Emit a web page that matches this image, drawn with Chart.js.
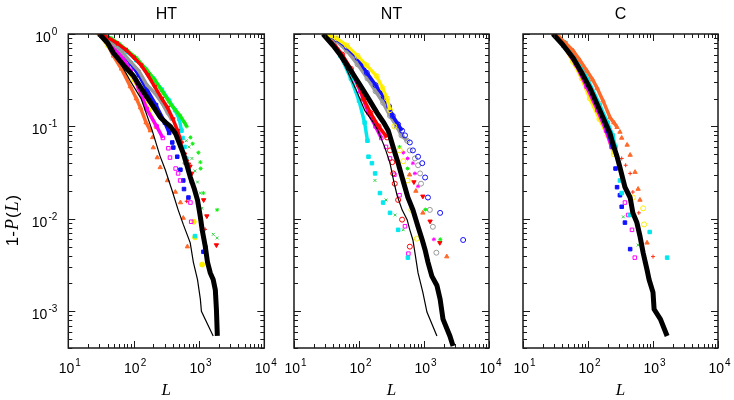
<!DOCTYPE html>
<html>
<head>
<meta charset="utf-8">
<script src="https://cdn.jsdelivr.net/npm/chart.js@4.4.0/dist/chart.umd.min.js"></script>
<style>
    body { margin: 0; background: #ffffff; }
    #wrap { position: relative; width: 734px; height: 400px; }
    #wrap canvas { position: absolute; left: 0; top: 0; }
</style>
</head>
<body>
<div id="wrap">
    <canvas id="c1" width="734" height="400"></canvas>
    <canvas id="c2" width="734" height="400"></canvas>
    <canvas id="c3" width="734" height="400"></canvas>
</div>
<script>
// Подписи делений (основание 10, показатели степени)
const xTickValues = [10, 100, 1000, 10000];
const xTickExp = ['1', '2', '3', '4'];
const yTickValues = [1, 0.1, 0.01, 0.001];
const yTickExp = ['0', '-1', '-2', '-3'];

// ---- HT ----
const htThickX = [30, 40, 49, 70, 99, 130, 162, 205, 257, 310, 365, 437, 500, 576, 660, 740, 850, 950, 1050, 1120, 1250, 1350, 1490, 1650, 1780, 1850, 1910];
const htThickY = [1, 0.8, 0.625, 0.46, 0.354, 0.26, 0.205, 0.16, 0.125, 0.11, 0.1, 0.084, 0.066, 0.051, 0.037, 0.028, 0.021, 0.016, 0.0105, 0.0076, 0.005, 0.0034, 0.0026, 0.0022, 0.0017, 0.00105, 0.00054];
const htThinX = [30, 49, 89, 130, 190, 253, 305, 390, 480, 575, 735, 820, 950, 1050, 1090, 1650];
const htThinY = [1, 0.66, 0.31, 0.2, 0.093, 0.048, 0.034, 0.02, 0.0125, 0.0087, 0.0055, 0.0034, 0.0022, 0.00135, 0.001, 0.00054];
const htRedX = [30, 40, 55, 75, 100, 130, 165, 210, 270, 330, 400, 470, 540, 600, 650, 690, 730, 775, 1180, 1320, 1850];
const htRedY = [1, 0.92, 0.8, 0.68, 0.56, 0.46, 0.36, 0.27, 0.2, 0.16, 0.12, 0.09, 0.066, 0.05, 0.042, 0.039, 0.037, 0.031, 0.016, 0.0107, 0.0052];
const htGreenX = [30, 45, 60, 80, 110, 158, 210, 285, 380, 515, 600, 650, 740, 800, 980, 1050, 1060, 1170, 1900];
const htGreenY = [1, 0.9, 0.78, 0.66, 0.55, 0.41, 0.32, 0.23, 0.17, 0.13, 0.11, 0.1, 0.076, 0.065, 0.052, 0.041, 0.035, 0.019, 0.0125];
const htGreenCrossX = [640, 700, 780, 870, 950, 1050, 1110, 1660, 1900];
const htGreenCrossY = [0.07, 0.06, 0.045, 0.033, 0.025, 0.019, 0.013, 0.0068, 0.0062];
const htCyanX = [30, 45, 60, 80, 110, 150, 200, 270, 350, 430, 500, 540, 560, 600, 640, 700, 870];
const htCyanY = [1, 0.88, 0.76, 0.64, 0.52, 0.42, 0.33, 0.25, 0.19, 0.15, 0.12, 0.09, 0.075, 0.06, 0.045, 0.033, 0.0065];
const htGrayX = [30, 45, 65, 90, 120, 160, 210, 270, 330, 380, 450, 520, 600, 750, 1100];
const htGrayY = [1, 0.82, 0.65, 0.5, 0.4, 0.28, 0.23, 0.18, 0.14, 0.12, 0.09, 0.06, 0.04, 0.025, 0.0075];
const htMagX = [30, 45, 65, 90, 120, 158, 225, 280, 340, 360, 440, 480, 515, 740, 760, 1260];
const htMagY = [1, 0.78, 0.58, 0.4, 0.26, 0.155, 0.1, 0.075, 0.058, 0.046, 0.035, 0.031, 0.026, 0.015, 0.0093, 0.0049];
const htBlueX = [30, 45, 65, 90, 120, 160, 220, 300, 350, 390, 405, 465, 520, 575, 590, 690, 1170];
const htBlueY = [1, 0.82, 0.64, 0.48, 0.36, 0.25, 0.17, 0.11, 0.085, 0.067, 0.059, 0.047, 0.034, 0.026, 0.021, 0.017, 0.0044];
const htYellowX = [30, 40, 55, 75, 100, 130, 170, 220, 830, 870, 1120];
const htYellowY = [1, 0.76, 0.58, 0.44, 0.32, 0.23, 0.15, 0.1, 0.0093, 0.0063, 0.0032];
const htOrangeX = [30, 38, 49, 65, 89, 110, 127, 155, 180, 195, 200, 230, 255, 330, 435, 520, 575, 665];
const htOrangeY = [1, 0.82, 0.58, 0.42, 0.27, 0.2, 0.16, 0.11, 0.09, 0.076, 0.059, 0.046, 0.036, 0.026, 0.0195, 0.015, 0.0102, 0.005];
const htRedPlusX = [650, 1240];
const htRedPlusY = [0.0155, 0.0077];

// ---- NT ----
const ntThickX = [28, 40, 51, 72, 104, 140, 190, 240, 282, 335, 400, 475, 565, 675, 810, 940, 1040, 1150, 1320, 1580, 1770, 1960, 2500, 2800];
const ntThickY = [1, 0.75, 0.6, 0.42, 0.28, 0.2, 0.14, 0.11, 0.09, 0.06, 0.04, 0.026, 0.017, 0.0125, 0.0082, 0.0059, 0.0046, 0.0034, 0.0024, 0.0019, 0.00135, 0.00082, 0.00054, 0.00042];
const ntThinX = [30, 45, 61, 90, 123, 160, 195, 250, 300, 340, 385, 460, 550, 605, 675, 725, 810, 960, 1110, 1580];
const ntThinY = [1, 0.66, 0.45, 0.25, 0.148, 0.115, 0.091, 0.059, 0.04, 0.026, 0.018, 0.0125, 0.0098, 0.0076, 0.0059, 0.0043, 0.0026, 0.0016, 0.00098, 0.00054];
const ntYellowX = [30, 45, 65, 95, 130, 187, 230, 270, 300, 350, 425, 480, 560, 640, 775];
const ntYellowY = [1, 0.9, 0.75, 0.58, 0.46, 0.35, 0.26, 0.2, 0.15, 0.1, 0.055, 0.042, 0.026, 0.0125, 0.0061];
const ntBlueX = [30, 45, 65, 95, 132, 180, 240, 290, 330, 400, 460, 510, 605, 675, 810, 940, 1040, 1150, 1770, 4000];
const ntBlueY = [1, 0.88, 0.72, 0.55, 0.38, 0.28, 0.21, 0.165, 0.13, 0.105, 0.09, 0.08, 0.067, 0.055, 0.047, 0.04, 0.028, 0.017, 0.0116, 0.0059];
const ntGrayX = [30, 45, 65, 95, 135, 180, 235, 300, 380, 450, 550, 605, 725, 810, 870, 900, 1230, 1370, 1550];
const ntGrayY = [1, 0.84, 0.66, 0.47, 0.33, 0.24, 0.18, 0.13, 0.1, 0.08, 0.07, 0.055, 0.045, 0.038, 0.031, 0.024, 0.0125, 0.0082, 0.0043];
const ntRedX = [30, 40, 55, 75, 100, 117, 150, 200, 270, 300, 325, 335, 355, 400, 460, 605];
const ntRedY = [1, 0.8, 0.6, 0.42, 0.28, 0.2, 0.14, 0.1, 0.076, 0.055, 0.041, 0.031, 0.024, 0.016, 0.0098, 0.005];
const ntCyanX = [30, 38, 52, 75, 100, 122, 135, 140, 158, 177, 210, 235, 300, 400, 565];
const ntCyanY = [1, 0.8, 0.58, 0.33, 0.19, 0.11, 0.07, 0.047, 0.04, 0.031, 0.019, 0.015, 0.0116, 0.0076, 0.0038];
const ntMagSqX = [30, 40, 55, 78, 105, 140, 180, 220, 260, 300, 350, 420, 510, 575];
const ntMagSqY = [1, 0.8, 0.58, 0.38, 0.24, 0.14, 0.1, 0.075, 0.06, 0.045, 0.03, 0.018, 0.0083, 0.0042];
const ntMagStarX = [480, 560, 675, 725, 810, 1420];
const ntMagStarY = [0.052, 0.045, 0.04, 0.031, 0.0225, 0.006];
const ntGreenCrossX = [176, 260, 360, 480];
const ntGreenCrossY = [0.026, 0.016, 0.011, 0.0076];
const ntGreenStarX = [420, 560, 1050, 1780];
const ntGreenStarY = [0.06, 0.035, 0.0126, 0.006];
const ntOrangeX = [600, 750, 960, 2240];
const ntOrangeY = [0.03, 0.02, 0.0116, 0.0039];
const ntRedDownX = [700, 960, 1240, 1750];
const ntRedDownY = [0.025, 0.0175, 0.0094, 0.0055];

// ---- C ----
const cThickX = [29, 40, 59, 80, 107, 135, 170, 218, 240, 280, 310, 370, 445, 490, 565, 630, 705, 810, 870, 1000, 1040, 1300, 1650];
const cThickY = [1, 0.78, 0.55, 0.38, 0.26, 0.18, 0.125, 0.084, 0.066, 0.047, 0.036, 0.022, 0.017, 0.0116, 0.0091, 0.0065, 0.0043, 0.0028, 0.0022, 0.0016, 0.00105, 0.00082, 0.00054];
const cOrangeX = [30, 37, 45, 59, 75, 96, 118, 138, 170, 218, 250, 280, 310, 330, 400, 445, 530, 590, 630, 810];
const cOrangeY = [1, 0.91, 0.8, 0.66, 0.52, 0.4, 0.32, 0.26, 0.19, 0.125, 0.11, 0.098, 0.087, 0.075, 0.063, 0.049, 0.032, 0.021, 0.016, 0.0055];
const cRedPlusX = [330, 380, 445, 490, 605, 1000];
const cRedPlusY = [0.045, 0.038, 0.031, 0.0195, 0.0116, 0.0039];
const cCyanX = [30, 45, 70, 100, 152, 200, 240, 265, 310, 330, 445, 890, 1650];
const cCyanY = [1, 0.8, 0.52, 0.32, 0.17, 0.11, 0.08, 0.06, 0.026, 0.019, 0.011, 0.0072, 0.0038];
const cBlueX = [30, 45, 70, 100, 150, 200, 240, 265, 280, 310, 330, 370, 445];
const cBlueY = [1, 0.76, 0.47, 0.28, 0.15, 0.09, 0.06, 0.035, 0.022, 0.018, 0.0135, 0.0091, 0.0047];
const cMagX = [30, 42, 65, 95, 140, 190, 230, 370, 415, 475, 525];
const cMagY = [1, 0.75, 0.47, 0.27, 0.15, 0.09, 0.06, 0.015, 0.011, 0.0076, 0.0038];
const cYellowX = [30, 40, 59, 80, 107, 150, 200, 250, 490, 705, 730];
const cYellowY = [1, 0.8, 0.5, 0.33, 0.2, 0.12, 0.08, 0.05, 0.017, 0.013, 0.0087];
const cGreenX = [350, 590];
const cGreenY = [0.0105, 0.0052];

// Цвета
const RED = '#ff0000', GREEN = '#11ee11', GREEN2 = '#33cc44', CYAN = '#00e8ee', BLUE = '#1010ff',
      MAGENTA = '#ff00ff', YELLOW = '#ffee00', ORANGE = '#ff6a2a', GRAY = '#999999';

// Описание серий для каждой панели
const panels = [
    {
        id: 'c1', left: 68.3, right: 264.3, title: 'HT', yLabels: true,
        series: [
            { x: htThickX, y: htThickY, color: '#000', line: 5, order: 0 },
            { x: htThinX, y: htThinY, color: '#000', line: 1.2, order: 1 },
            { x: htRedX, y: htRedY, head: 13, color: RED, style: 'triangle', rot: 180, fill: true },
            { x: htGreenX, y: htGreenY, head: 12, color: GREEN, style: 'star', r: 2 },
            { x: htGreenCrossX, y: htGreenCrossY, color: GREEN2, style: 'crossRot', r: 2 },
            { x: htCyanX, y: htCyanY, head: 12, color: CYAN, style: 'rect', fill: true },
            { x: htGrayX, y: htGrayY, head: 10, color: GRAY, style: 'circle', fill: true, r: 1.5 },
            { x: htMagX, y: htMagY, head: 8, color: MAGENTA, style: 'rect' },
            { x: htBlueX, y: htBlueY, head: 9, color: BLUE, style: 'rect', fill: true },
            { x: htYellowX, y: htYellowY, head: 8, color: YELLOW, style: 'circle', fill: true },
            { x: htOrangeX, y: htOrangeY, head: 9, color: ORANGE, style: 'triangle', fill: true },
            { x: htRedPlusX, y: htRedPlusY, color: RED, style: 'cross', r: 2 }
        ]
    },
    {
        id: 'c2', left: 294, right: 489, title: 'NT', yLabels: false,
        series: [
            { x: ntThickX, y: ntThickY, color: '#000', line: 5, order: 0 },
            { x: ntThinX, y: ntThinY, color: '#000', line: 1.2, order: 1 },
            { x: ntYellowX, y: ntYellowY, head: 9, color: YELLOW, style: 'circle' },
            { x: ntBlueX, y: ntBlueY, head: 11, color: BLUE, style: 'circle' },
            { x: ntGrayX, y: ntGrayY, head: 11, color: GRAY, style: 'circle' },
            { x: ntRedX, y: ntRedY, head: 9, color: RED, style: 'circle' },
            { x: ntCyanX, y: ntCyanY, head: 7, color: CYAN, style: 'rect', fill: true },
            { x: ntMagSqX, y: ntMagSqY, head: 8, color: MAGENTA, style: 'rect' },
            { x: ntMagStarX, y: ntMagStarY, color: MAGENTA, style: 'star', r: 2 },
            { x: ntGreenCrossX, y: ntGreenCrossY, color: GREEN2, style: 'crossRot', r: 2 },
            { x: ntGreenStarX, y: ntGreenStarY, color: GREEN, style: 'star', r: 2 },
            { x: ntOrangeX, y: ntOrangeY, color: ORANGE, style: 'triangle', fill: true },
            { x: ntRedDownX, y: ntRedDownY, color: RED, style: 'triangle', rot: 180, fill: true }
        ]
    },
    {
        id: 'c3', left: 523, right: 718, title: 'C', yLabels: false,
        series: [
            { x: cThickX, y: cThickY, color: '#000', line: 5, order: 0 },
            { x: cOrangeX, y: cOrangeY, head: 12, color: ORANGE, style: 'triangle', fill: true },
            { x: cRedPlusX, y: cRedPlusY, color: '#ff3311', style: 'cross', r: 2 },
            { x: cCyanX, y: cCyanY, head: 8, color: CYAN, style: 'rect', fill: true },
            { x: cBlueX, y: cBlueY, head: 7, color: BLUE, style: 'rect', fill: true },
            { x: cMagX, y: cMagY, head: 7, color: MAGENTA, style: 'rect' },
            { x: cYellowX, y: cYellowY, head: 8, color: YELLOW, style: 'circle' },
            { x: cGreenX, y: cGreenY, color: GREEN2, style: 'crossRot', r: 2 }
        ]
    }
];

const TOP = 34, BOTTOM = 348, W = 734, H = 400;
const NONE = 'rgba(0,0,0,0)';

// Превращаем серии в наборы данных Chart.js
function makeDatasets(list) {
    return list.map(s => {
        const pts = s.x.map((v, i) => ({ x: v, y: s.y[i] }));
        if (s.line) {
            return {
                data: pts, showLine: true, borderColor: s.color, borderWidth: s.line,
                pointRadius: 0, tension: 0, order: s.order
            };
        }
        const head = s.head || 0;
        return {
            data: pts,
            showLine: head > 1,
            borderColor: s.color,
            borderWidth: 3.5,
            tension: 0,
            segment: { borderColor: c => c.p0DataIndex >= head - 1 ? NONE : undefined },
            pointStyle: s.style,
            pointRotation: s.rot || 0,
            pointRadius: s.r || 2.5,
            pointBorderWidth: 1,
            pointBorderColor: s.color,
            pointBackgroundColor: s.fill ? s.color : NONE,
            order: 5
        };
    });
}

// Рамка, деления и подписи рисуем сами
const decoPlugin = {
    id: 'deco',
    afterDraw(chart, args, opts) {
        const ctx = chart.ctx;
        const a = chart.chartArea;
        const xs = chart.scales.x, ys = chart.scales.y;
        ctx.save();
        ctx.strokeStyle = '#1a1a1a';
        ctx.lineWidth = 1.5;
        ctx.strokeRect(a.left, a.top, a.right - a.left, a.bottom - a.top);

        ctx.lineWidth = 1;
        ctx.beginPath();
        // деления по x
        for (let e = 1; e <= 4; e++) {
            for (let m = 1; m <= 9; m++) {
                const v = m * Math.pow(10, e);
                if (v > 10000) break;
                const px = Math.round(xs.getPixelForValue(v)) + 0.5;
                const len = m === 1 ? 7 : 4;
                ctx.moveTo(px, a.bottom); ctx.lineTo(px, a.bottom - len);
                ctx.moveTo(px, a.top); ctx.lineTo(px, a.top + len);
            }
        }
        // деления по y
        for (let e = -4; e <= 0; e++) {
            for (let m = 1; m <= 9; m++) {
                const v = m * Math.pow(10, e);
                if (v < 4e-4 || v > 1) continue;
                const py = Math.round(ys.getPixelForValue(v)) + 0.5;
                const len = m === 1 ? 7 : 4;
                ctx.moveTo(a.left, py); ctx.lineTo(a.left + len, py);
                ctx.moveTo(a.right, py); ctx.lineTo(a.right - len, py);
            }
        }
        ctx.stroke();

        ctx.fillStyle = '#000';
        ctx.textBaseline = 'alphabetic';
        ctx.textAlign = 'left';
        const big = '14px "Liberation Sans", Arial, sans-serif';
        const small = '10px "Liberation Sans", Arial, sans-serif';

        // подписи по x
        xTickValues.forEach((v, i) => {
            const px = xs.getPixelForValue(v);
            ctx.font = big; const w1 = ctx.measureText('10').width;
            ctx.font = small; const w2 = ctx.measureText(xTickExp[i]).width;
            const x0 = px - (w1 + w2) / 2 + 1;
            ctx.font = big; ctx.fillText('10', x0, a.bottom + 25);
            ctx.font = small; ctx.fillText(xTickExp[i], x0 + w1 + 1, a.bottom + 18);
        });

        // подписи по y
        if (opts.yLabels) {
            yTickValues.forEach((v, i) => {
                const py = ys.getPixelForValue(v);
                ctx.font = small; const w2 = ctx.measureText(yTickExp[i]).width;
                ctx.font = big; const w1 = ctx.measureText('10').width;
                const xr = a.left - 11;
                ctx.fillText('10', xr - w2 - 1 - w1, py + 8);
                ctx.font = small; ctx.fillText(yTickExp[i], xr - w2, py + 1);
            });

            // подпись оси y
            ctx.save();
            ctx.translate(18, 220);
            ctx.rotate(-Math.PI / 2);
            const parts = [
                ['1-', '17px "Liberation Sans", Arial, sans-serif'],
                ['P', 'italic 18px "Liberation Serif", serif'],
                ['(', '17px "Liberation Sans", Arial, sans-serif'],
                ['L', 'italic 18px "Liberation Serif", serif'],
                [')', '17px "Liberation Sans", Arial, sans-serif']
            ];
            let total = 0;
            parts.forEach(p => { ctx.font = p[1]; total += ctx.measureText(p[0]).width + 1; });
            let cx = -total / 2;
            parts.forEach(p => { ctx.font = p[1]; ctx.fillText(p[0], cx, 0); cx += ctx.measureText(p[0]).width + 1; });
            ctx.restore();
        }

        // заголовок панели
        ctx.textAlign = 'center';
        ctx.font = '16px "Liberation Sans", Arial, sans-serif';
        ctx.fillText(opts.title, (a.left + a.right) / 2, 18.5);

        // подпись оси x
        ctx.font = 'italic 17px "Liberation Serif", serif';
        ctx.fillText('L', (a.left + a.right) / 2, 395);
        ctx.restore();
    }
};

// Строим три графика
panels.forEach(p => {
    const ctx = document.getElementById(p.id).getContext('2d');
    new Chart(ctx, {
        type: 'scatter',
        data: { datasets: makeDatasets(p.series) },
        options: {
            responsive: false,
            animation: false,
            events: [],
            layout: { padding: { top: TOP, right: W - p.right, left: 0, bottom: 0 } },
            scales: {
                x: {
                    type: 'logarithmic', min: 10, max: 10000,
                    ticks: { display: false }, grid: { display: false }, border: { display: false },
                    afterFit: s => { s.height = H - BOTTOM; }
                },
                y: {
                    type: 'logarithmic', min: 4e-4, max: 1,
                    ticks: { display: false }, grid: { display: false }, border: { display: false },
                    afterFit: s => { s.width = p.left; }
                }
            },
            plugins: {
                legend: { display: false },
                tooltip: { enabled: false },
                deco: { title: p.title, yLabels: p.yLabels }
            }
        },
        plugins: [decoPlugin]
    });
});
</script>
</body>
</html>
